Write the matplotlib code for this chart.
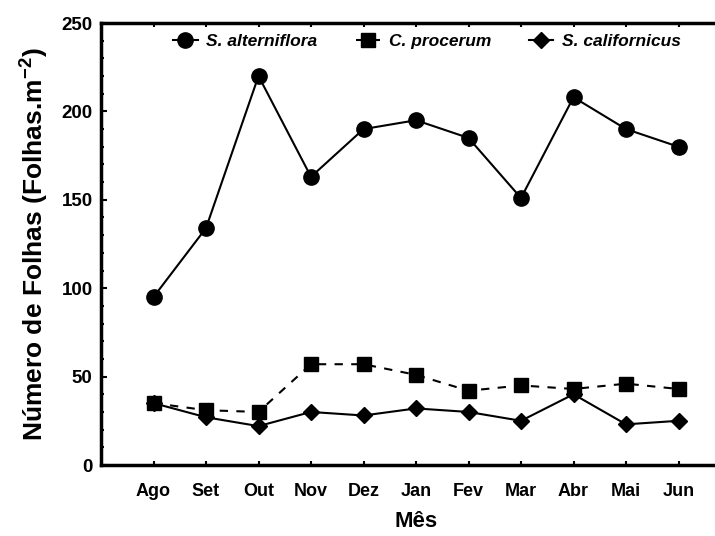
import matplotlib
matplotlib.use("Agg")
import matplotlib.pyplot as plt
from matplotlib.ticker import MultipleLocator

plt.rcParams['font.family'] = ['Liberation Sans', 'DejaVu Sans']
plt.rcParams['mathtext.fontset'] = 'custom'
plt.rcParams['mathtext.bf'] = 'Liberation Sans:bold'
plt.rcParams['mathtext.rm'] = 'Liberation Sans:bold'

months = ["Ago", "Set", "Out", "Nov", "Dez", "Jan", "Fev", "Mar", "Abr", "Mai", "Jun"]
s_alterniflora = [95, 134, 220, 163, 190, 195, 185, 151, 208, 190, 180]
c_procerum = [35, 31, 30, 57, 57, 51, 42, 45, 43, 46, 43]
s_californicus = [35, 27, 22, 30, 28, 32, 30, 25, 40, 23, 25]

fig = plt.figure(figsize=(7.15, 5.36), dpi=100)
ax = fig.add_axes([101/715, 71/536, 630/715, 442/536])
x = list(range(len(months)))

ax.plot(x, s_alterniflora, color='black', lw=1.5, marker='o', ms=11,
        label='S. alterniflora')
ax.plot(x, c_procerum, color='black', lw=1.5, ls=(0, (4, 4)), marker='s', ms=10,
        label='C. procerum')
ax.plot(x, s_californicus, color='black', lw=1.5, marker='D', ms=8,
        label='S. californicus')

ax.set_xlim(-1, 11)
ax.set_ylim(0, 250)
ax.set_xticks(x)
ax.set_xticklabels(months, fontsize=13, fontweight='bold')
ax.yaxis.set_major_locator(MultipleLocator(50))
ax.yaxis.set_minor_locator(MultipleLocator(10))
for lab in ax.get_yticklabels():
    lab.set_fontweight('bold')
    lab.set_fontsize(13.5)
ax.tick_params(axis='both', which='both', direction='in', top=True, right=False,
               width=1.5, color='black')
ax.tick_params(axis='y', which='major', length=4, pad=6)
ax.tick_params(axis='y', which='minor', length=2.5)
ax.tick_params(axis='x', which='major', length=3, pad=13)
for sp in ax.spines.values():
    sp.set_linewidth(2.5)

ax.set_ylabel('Número de Folhas (Folhas.m$^{-2}$)', fontsize=19,
              fontweight='bold', labelpad=8)
ax.set_xlabel('Mês', fontsize=16, fontweight='bold', labelpad=8)

leg = ax.legend(loc='upper left', bbox_to_anchor=(0.09, 1.01), ncol=3, frameon=False,
                handlelength=1.4, handletextpad=0.5, columnspacing=2.2,
                prop={'style': 'italic', 'weight': 'bold', 'size': 12.5})

fig.savefig('out.png', dpi=100)
